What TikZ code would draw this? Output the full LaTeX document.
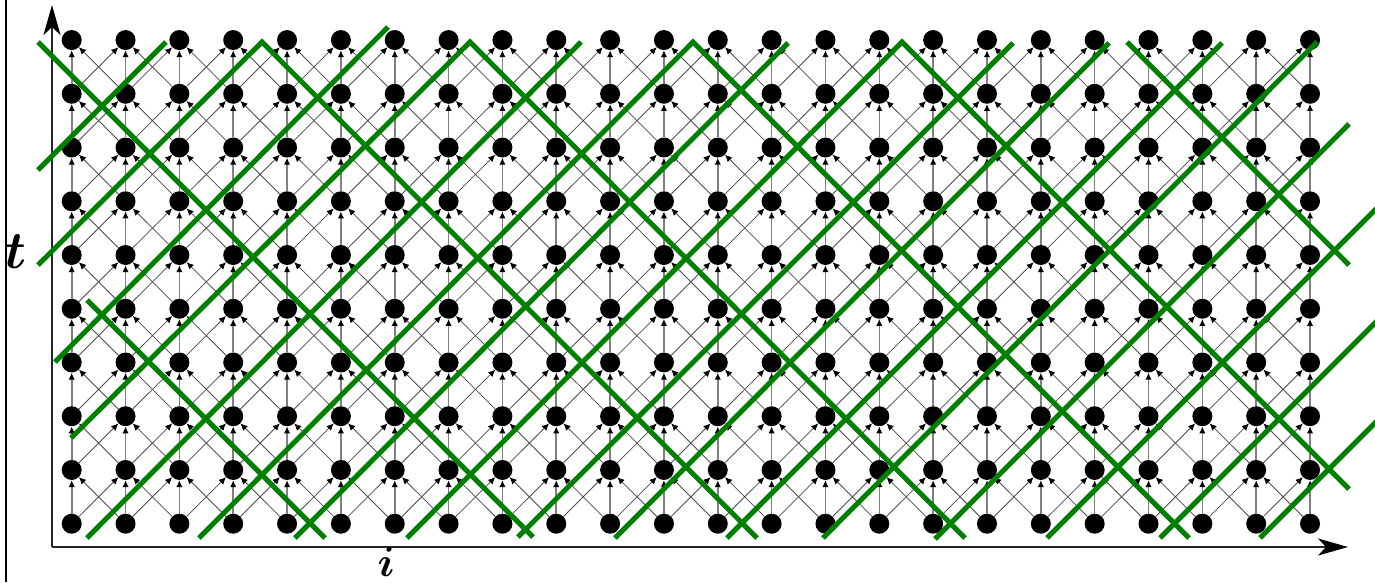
\documentclass[tikz,border=0pt]{standalone}
\usepackage{bm}
\usetikzlibrary{arrows.meta}
\definecolor{lgreen}{RGB}{0,128,0}
\begin{document}
\begin{tikzpicture}[x=1pt,y=-1pt,
  dot/.style={circle,fill=black,minimum size=20pt,inner sep=0pt},
  vedge/.style={draw=black!50,line width=1.6pt,-{Latex[length=7pt,width=6.5pt,color=black]}},
  dedge/.style={draw=black!70,line width=0.8pt,-{Latex[length=7pt,width=6.5pt,color=black]}},
  axis/.style={line width=2pt,draw=black!85,-{Stealth[length=30pt,width=17pt,inset=8pt,color=black]}},
  gline/.style={draw=lgreen,line width=5pt},
  lbl/.style={inner sep=0pt},
]
\useasboundingbox (0,0) rectangle (1375,582);
\fill[white] (0,0) rectangle (1375,582);
% left border
\draw[line width=2pt] (5.5,0) -- (5.5,582);
% axes
\coordinate (O) at (52,547);
\coordinate (T) at (52,5);
\coordinate (I) at (1348,547);
\draw[axis] (O) -- (T);
\draw[axis] (O) -- (I);
\node[lbl,scale=5.3] (tlab) at (15.5,251.5) {$\bm{t}$};
\node[lbl,scale=4.2,anchor=south] (ilab) at (386,577) {$\bm{i}$};
% nodes
\foreach \i in {0,...,23}{
  \foreach \t in {0,...,9}{
    \node[dot] (n-\i-\t) at ({71.7+53.84*\i},{523.7-53.74*\t}) {};
  }
}
% edges
\foreach \i in {0,...,23}{
  \foreach \t in {1,...,9}{
    \pgfmathtruncatemacro\ts{\t-1}
    \pgfmathtruncatemacro\il{\i-1}
    \pgfmathtruncatemacro\ir{\i+1}
    \draw[vedge] (n-\i-\ts) -- (n-\i-\t);
    \ifnum\i>0 \draw[dedge] (n-\il-\ts) -- (n-\i-\t);\fi
    \ifnum\i<23 \draw[dedge] (n-\ir-\ts) -- (n-\i-\t);\fi
  }
}
% green lines
\draw[gline] (38,170) -- (166,42);
\draw[gline] (38,265) -- (262,42) -- (757,538);
\draw[gline] (55,362) -- (388,27);
\draw[gline] (71,438) -- (470,42) -- (965,538);
\draw[gline] (87,538) -- (581,42);
\draw[gline] (199,538) -- (693,42) -- (1189,538);
\draw[gline] (295,538) -- (788,43);
\draw[gline] (407,538) -- (902,42) -- (1349,489);
\draw[gline] (518,537) -- (1013,43);
\draw[gline] (615,538) -- (1109,43);
\draw[gline] (727,538) -- (1222,43);
\draw[gline] (823,538) -- (1317,42);
\draw[gline] (935,539) -- (1349,124);
\draw[gline] (1047,538) -- (1385,200);
\draw[gline] (1160,538) -- (1385,313);
\draw[gline] (1260,538) -- (1385,413);
\draw[gline] (38,42) -- (533,537);
\draw[gline] (87,300) -- (325,538);
\draw[gline] (1127,42) -- (1349,265);
\end{tikzpicture}
\end{document}
